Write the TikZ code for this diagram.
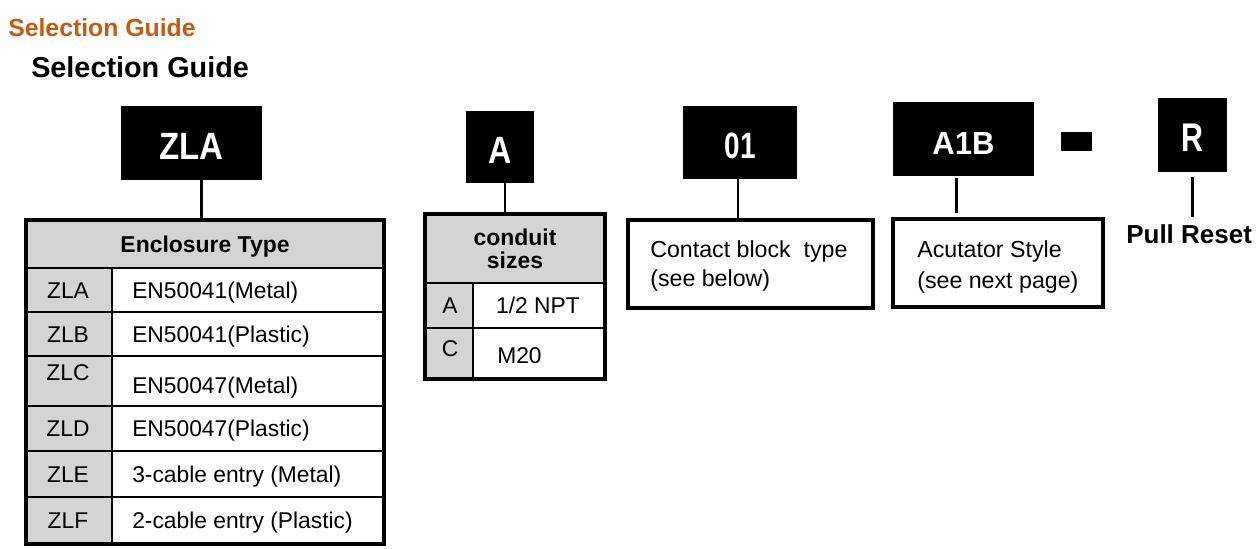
\documentclass[tikz,border=0pt]{standalone}
\usepackage{fontspec}
\usepackage{graphicx}
\setmainfont{Liberation Sans}
\usetikzlibrary{calc,fit}
\definecolor{orangetitle}{RGB}{197,90,17}
\definecolor{cellgray}{RGB}{212,212,212}
\tikzset{
  cellbox/.style={draw, line width=2.2pt, inner sep=0pt},
  outerbox/.style={draw, line width=3pt},
  plainbox/.style={draw, line width=3pt, inner sep=0pt},
  blackbox/.style={fill=black, inner sep=0pt},
  boxtxt/.style={text=white, inner sep=0pt},
  rowtxt/.style={font=\fontsize{17.1}{20}\selectfont, inner sep=0pt},
  notetxt/.style={font=\fontsize{17.4}{20}\selectfont, inner sep=0pt},
  headtxt/.style={font=\fontsize{17.2}{20}\selectfont\bfseries, inner sep=0pt},
  conn/.style={line width=2pt},
}
\begin{document}
\begin{tikzpicture}[x=0.75pt,y=-0.75pt]
\useasboundingbox (0,0) rectangle (1259,549);

% titles
\node[anchor=base west, inner sep=0pt, text=orangetitle, font=\fontsize{18.6}{21}\selectfont\bfseries] (title1) at (8,37) {Selection Guide};
\node[anchor=base west, inner sep=0pt, font=\fontsize{21.6}{25}\selectfont\bfseries] (title2) at (31,78) {Selection Guide};

% code boxes
\node[blackbox, fit={(121,106) (262,180)}] (zla) {};
\node[boxtxt, font=\fontsize{28.5}{30}\selectfont\bfseries] (zlat) at ($(zla.center)+(0,3)$) {\scalebox{0.87}[1]{ZLA}};
\node[blackbox, fit={(466,111) (534,183)}] (abox) {};
\node[boxtxt, font=\fontsize{28.5}{30}\selectfont\bfseries] (abt) at ($(abox.center)+(0,3)$) {\scalebox{0.85}[1]{A}};
\node[blackbox, fit={(683,106) (797,179)}] (ob) {};
\node[boxtxt, font=\fontsize{27.5}{30}\selectfont\bfseries] (obt) at ($(ob.center)+(0,3)$) {\scalebox{0.76}[1]{01}};
\node[blackbox, fit={(893,102) (1034,176)}] (a1b) {};
\node[boxtxt, font=\fontsize{24}{28}\selectfont\bfseries] (a1bt) at ($(a1b.center)+(0,4)$) {\scalebox{0.97}[1]{A1B}};
\node[blackbox, fit={(1061,132) (1092,151)}] (dash) {};
\node[blackbox, fit={(1158,98) (1227,172)}] (rbox) {};
\node[boxtxt, font=\fontsize{30}{32}\selectfont\bfseries] (rt) at ($(rbox.center)+(0,3)$) {\scalebox{0.76}[1]{R}};

% Enclosure table
\node[cellbox, fill=cellgray, fit={(27,221) (383,268)}] (ehead) {};
\node[cellbox, fill=cellgray, fit={(27,268) (112,312)}] (ea1) {};
\node[cellbox, fill=white, fit={(112,268) (383,312)}] (ea2) {};
\node[cellbox, fill=cellgray, fit={(27,312) (112,356)}] (eb1) {};
\node[cellbox, fill=white, fit={(112,312) (383,356)}] (eb2) {};
\node[cellbox, fill=cellgray, fit={(27,356) (112,406)}] (ec1) {};
\node[cellbox, fill=white, fit={(112,356) (383,406)}] (ec2) {};
\node[cellbox, fill=cellgray, fit={(27,406) (112,451)}] (ed1) {};
\node[cellbox, fill=white, fit={(112,406) (383,451)}] (ed2) {};
\node[cellbox, fill=cellgray, fit={(27,451) (112,497)}] (ee1) {};
\node[cellbox, fill=white, fit={(112,451) (383,497)}] (ee2) {};
\node[cellbox, fill=cellgray, fit={(27,497) (112,543)}] (ef1) {};
\node[cellbox, fill=white, fit={(112,497) (383,543)}] (ef2) {};
\draw[outerbox] (ehead.north west) rectangle (ef2.south east);

\node[headtxt, anchor=base] (eht) at (205,252) {Enclosure Type};
\node[rowtxt, anchor=base] (eal) at (68,298) {ZLA};
\node[rowtxt, anchor=base west] (eat) at (132,298) {EN50041(Metal)};
\node[rowtxt, anchor=base] (ebl) at (68,342) {ZLB};
\node[rowtxt, anchor=base west] (ebt) at (132,342) {EN50041(Plastic)};
\node[rowtxt, anchor=base] (ecl) at (68,380) {ZLC};
\node[rowtxt, anchor=base west] (ect) at (132,393) {EN50047(Metal)};
\node[rowtxt, anchor=base] (edl) at (68,436) {ZLD};
\node[rowtxt, anchor=base west] (edt) at (132,436) {EN50047(Plastic)};
\node[rowtxt, anchor=base] (eel) at (68,482) {ZLE};
\node[rowtxt, anchor=base west] (eet) at (132,482) {3-cable entry (Metal)};
\node[rowtxt, anchor=base] (efl) at (68,528) {ZLF};
\node[rowtxt, anchor=base west] (eft) at (132,528) {2-cable entry (Plastic)};

% Conduit table
\node[cellbox, fill=cellgray, fit={(426,215) (604,283)}] (chead) {};
\node[cellbox, fill=cellgray, fit={(426,283) (473,328)}] (ca1) {};
\node[cellbox, fill=white, fit={(473,283) (604,328)}] (ca2) {};
\node[cellbox, fill=cellgray, fit={(426,328) (473,378)}] (cc1) {};
\node[cellbox, fill=white, fit={(473,328) (604,378)}] (cc2) {};
\draw[outerbox] (chead.north west) rectangle (cc2.south east);

\node[headtxt, anchor=base] (cht1) at (515,245) {conduit};
\node[headtxt, anchor=base] (cht2) at (515,268) {sizes};
\node[rowtxt, anchor=base] (cal) at (450,313) {A};
\node[rowtxt, anchor=base] (cat) at (538,313) {1/2 NPT};
\node[rowtxt, anchor=base] (ccl) at (450,356) {C};
\node[rowtxt, anchor=base west] (cct) at (497,363) {M20};

% Contact block box
\node[plainbox, fit={(628,220) (873,308)}] (contact) {};
\node[notetxt, anchor=base west] (ct1) at (650,257) {Contact block\ \ type};
\node[notetxt, anchor=base west] (ct2) at (650,286) {(see below)};

% Actuator box
\node[plainbox, fit={(893,219) (1103,307)}] (act) {};
\node[notetxt, anchor=base west] (at1) at (917,257) {Acutator Style};
\node[notetxt, anchor=base west] (at2) at (917,288) {(see next page)};

% Pull reset
\node[anchor=base west, inner sep=0pt, font=\fontsize{19.5}{22}\selectfont\bfseries] (pull) at (1126,243) {Pull Reset};

% connectors
\coordinate (c1) at ($(zla.south)+(10,0)$);
\draw[conn] (c1) -- (c1 |- ehead.north);
\coordinate (c2) at ($(abox.south)+(5,0)$);
\draw[conn] (c2) -- (c2 |- chead.north);
\coordinate (c3) at ($(ob.south)+(-2,0)$);
\draw[conn] (c3) -- (c3 |- contact.north);
\coordinate (c4) at ($(a1b.south)+(-7,2)$);
\coordinate (c4b) at (c4 |- act.north);
\draw[conn] (c4) -- ($(c4b)+(0,-4)$);
\coordinate (c5) at ($(rbox.south)+(0,5)$);
\coordinate (c5b) at (c5 |- pull.north);
\draw[conn] (c5) -- ($(c5b)+(0,-7)$);
\end{tikzpicture}
\end{document}
